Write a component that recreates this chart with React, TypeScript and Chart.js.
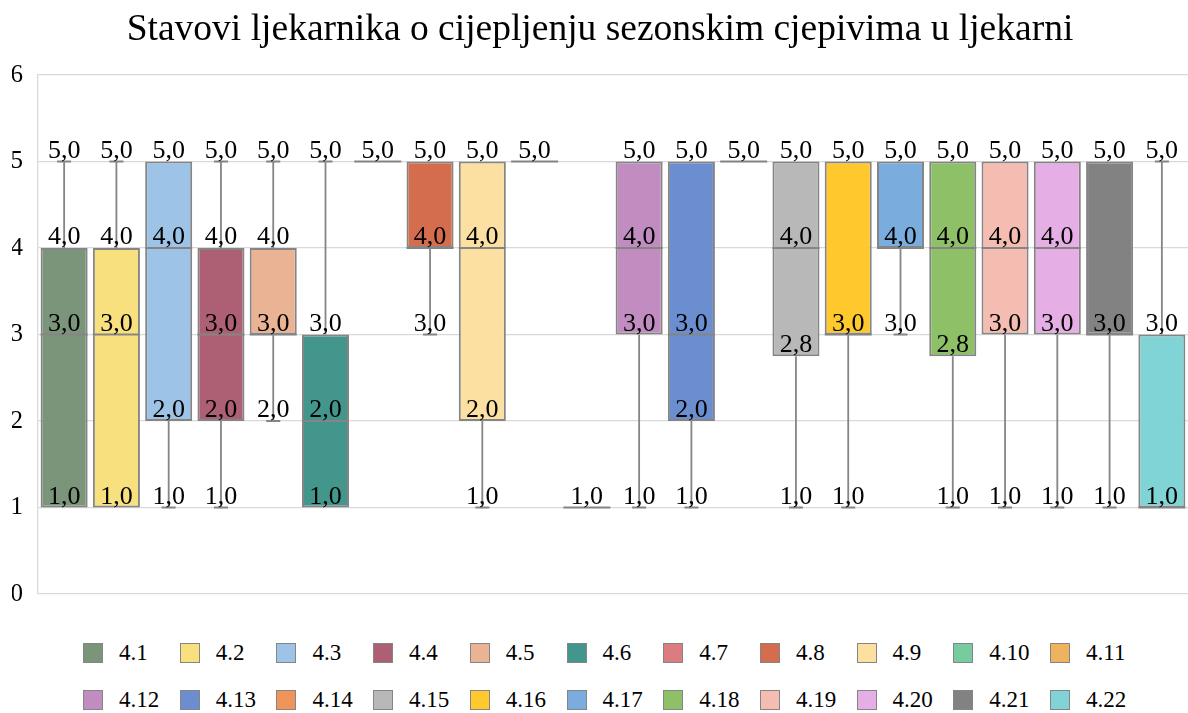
import React, { useEffect, useRef } from "react";
import { Chart, registerables } from "chart.js";

Chart.register(...registerables);

const TITLE = "Stavovi ljekarnika o cijepljenju sezonskim cjepivima u ljekarni";
const categories = ["4.1","4.2","4.3","4.4","4.5","4.6","4.7","4.8","4.9","4.10","4.11","4.12","4.13","4.14","4.15","4.16","4.17","4.18","4.19","4.20","4.21","4.22"];
const mins =    [1, 1, 1, 1, 2, 1, 5, 3, 1, 5, 1, 1, 1, 5, 1,    1, 3, 1,    1, 1, 1, 1];
const q1s =     [1, 1, 2, 2, 3, 1, 5, 4, 2, 5, 1, 3, 2, 5, 2.75, 3, 4, 2.75, 3, 3, 3, 1];
const medians = [3, 3, 4, 3, 3, 2, 5, 4, 4, 5, 1, 4, 3, 5, 4,    3, 4, 4,    4, 4, 3, 1];
const q3s =     [4, 4, 5, 4, 4, 3, 5, 5, 5, 5, 1, 5, 5, 5, 5,    5, 5, 5,    5, 5, 5, 3];
const maxs =    [5, 5, 5, 5, 5, 5, 5, 5, 5, 5, 1, 5, 5, 5, 5,    5, 5, 5,    5, 5, 5, 5];
const colors = [
  "#7B957B", "#F8E07E", "#9DC3E6", "#AD5F74", "#EAB394", "#43968B",
  "#DB7C80", "#D46C4E", "#FBE0A2", "#78CB9F", "#EDB35F",
  "#C18DC0", "#6A8ECF", "#F0955A", "#B8B8B8", "#FFC92E", "#7AACDD",
  "#8DC067", "#F5BDB1", "#E5AEE5", "#828282", "#80D4D6",
];
const yTicks = [0, 1, 2, 3, 4, 5, 6];

const FONT = "'Liberation Serif', 'Times New Roman', serif";
const LINE = "#858585";

const fmt = (v: number) => v.toFixed(1).replace(".", ",");

const boxPlugin = {
  id: "boxExtras",
  afterDatasetsDraw(chart: any) {
    const ctx = chart.ctx;
    const y = chart.scales.y;
    ctx.save();
    categories.forEach((_, i) => {
      const meta = chart.getDatasetMeta(i);
      const el = meta.data[i];
      if (!el) return;
      const x = el.x;
      const w = el.width;
      ctx.strokeStyle = LINE;
      ctx.lineWidth = 1.8;
      ctx.beginPath();
      if (maxs[i] > q3s[i]) {
        ctx.moveTo(x, y.getPixelForValue(q3s[i]));
        ctx.lineTo(x, y.getPixelForValue(maxs[i]));
        ctx.moveTo(x - 7, y.getPixelForValue(maxs[i]));
        ctx.lineTo(x + 7, y.getPixelForValue(maxs[i]));
      }
      if (mins[i] < q1s[i]) {
        ctx.moveTo(x, y.getPixelForValue(q1s[i]));
        ctx.lineTo(x, y.getPixelForValue(mins[i]));
        ctx.moveTo(x - 7, y.getPixelForValue(mins[i]));
        ctx.lineTo(x + 7, y.getPixelForValue(mins[i]));
      }
      const ym = y.getPixelForValue(medians[i]);
      ctx.moveTo(x - w / 2, ym);
      ctx.lineTo(x + w / 2, ym);
      ctx.stroke();

      ctx.fillStyle = "#000";
      ctx.font = `26px ${FONT}`;
      ctx.textAlign = "center";
      ctx.textBaseline = "alphabetic";
      const vals = Array.from(new Set([maxs[i], q3s[i], medians[i], q1s[i], mins[i]]));
      vals.forEach((v) => {
        ctx.fillText(fmt(v), x, y.getPixelForValue(v) - 4);
      });
    });
    ctx.restore();
  },
};

export default function App() {
  const ref = useRef<HTMLCanvasElement | null>(null);
  useEffect(() => {
    if (!ref.current) return;
    const datasets = categories.map((c, i) => ({
      label: c,
      data: categories.map((_, j) => (j === i ? [q1s[i], q3s[i]] : null)),
      backgroundColor: colors[i],
      borderColor: LINE,
      borderWidth: 2,
      borderSkipped: false,
      grouped: false,
      barPercentage: 0.9,
      categoryPercentage: 1,
    }));
    const chart = new Chart(ref.current, {
      type: "bar",
      data: { labels: categories, datasets: datasets as any },
      options: {
        responsive: false,
        animation: false,
        layout: { padding: { left: 12, right: 0, top: 0, bottom: 7 } },
        plugins: {
          legend: { display: false },
          tooltip: { enabled: false },
          title: {
            display: true,
            text: TITLE,
            color: "#000",
            font: { family: FONT, size: 37.5, weight: "normal", lineHeight: 1.2 },
            padding: { top: 8, bottom: 22 },
          },
        },
        scales: {
          x: { display: false },
          y: {
            min: 0,
            max: 6,
            afterBuildTicks: (axis: any) => {
              axis.ticks = yTicks.map((v) => ({ value: v }));
            },
            afterFit: (axis: any) => {
              axis.width = 26;
            },
            ticks: {
              color: "#000",
              font: { family: FONT, size: 25 },
              padding: 15,
            },
            grid: { color: "#d9d9d9", lineWidth: 1.3, drawTicks: false },
            border: { color: "#d9d9d9", width: 1.3 },
          },
        },
      },
      plugins: [boxPlugin],
    });
    return () => chart.destroy();
  }, []);

  return (
    <div style={{ position: "absolute", left: 0, top: 0, width: 1188, height: 713, background: "#fff" }}>
      <canvas ref={ref} width={1188} height={624} style={{ display: "block", width: 1188, height: 624 }} />
      {categories.map((c, i) => {
        const col = i % 11;
        const row = Math.floor(i / 11);
        const left = 83 + col * 96.7;
        const cy = row === 0 ? 653 : 700;
        return (
          <div key={c} style={{ position: "absolute", left, top: cy - 13, height: 26, display: "flex", alignItems: "center", fontFamily: FONT, fontSize: 23, color: "#000", whiteSpace: "nowrap" }}>
            <span style={{ display: "inline-block", width: 18, height: 18, background: colors[i], border: `1.5px solid ${LINE}`, boxSizing: "content-box" }} />
            <span style={{ marginLeft: 16 }}>{c}</span>
          </div>
        );
      })}
    </div>
  );
}
